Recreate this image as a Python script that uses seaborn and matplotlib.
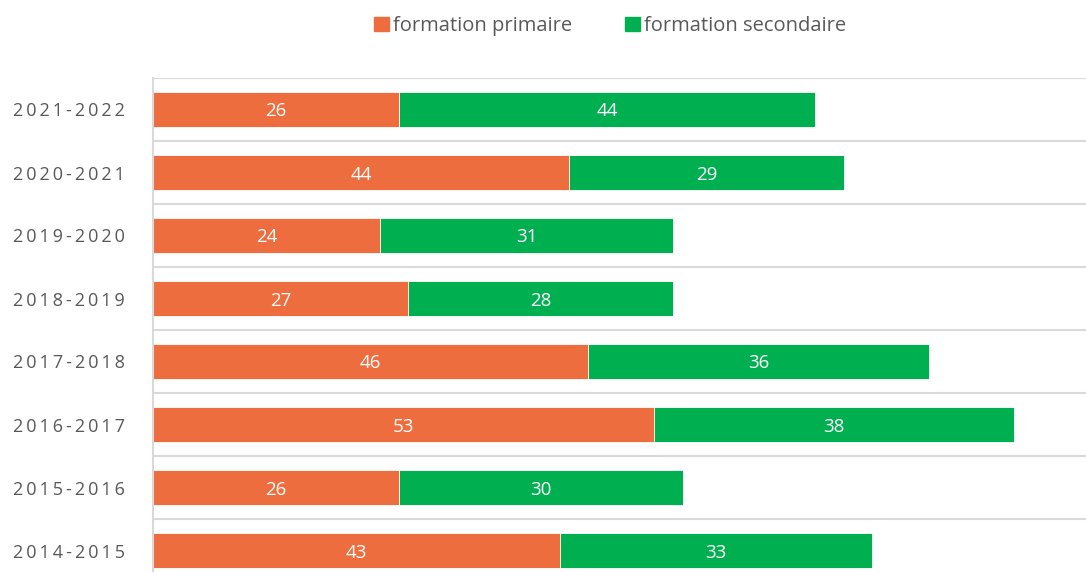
import matplotlib
matplotlib.use("Agg")
import matplotlib.pyplot as plt
import seaborn as sns
import pandas as pd
from matplotlib.patches import Patch

years = ["2021-2022", "2020-2021", "2019-2020", "2018-2019",
         "2017-2018", "2016-2017", "2015-2016", "2014-2015"]
primaire = [26, 44, 24, 27, 46, 53, 26, 43]
secondaire = [44, 29, 31, 28, 36, 38, 30, 33]
series_names = ["formation primaire", "formation secondaire"]

c_prim = "#ED6D3E"
c_sec = "#00B050"

df = pd.DataFrame({"year": years, "prim": primaire, "sec": secondaire})
df["total"] = df["prim"] + df["sec"]

sns.set_theme(style="white")
plt.rcParams["font.family"] = ["Open Sans", "DejaVu Sans"]

fig = plt.figure(figsize=(10.86, 5.72), dpi=100)
ax = fig.add_axes([153 / 1086, 0, 1 - 153 / 1086, 1 - 78 / 572])

sns.barplot(data=df, x="total", y="year", order=years, color=c_sec,
            width=0.57, edgecolor="white", linewidth=0.6, saturation=1, ax=ax)
sns.barplot(data=df, x="prim", y="year", order=years, color=c_prim,
            width=0.57, edgecolor="white", linewidth=0.6, saturation=1, ax=ax)

for i, (p, s) in enumerate(zip(primaire, secondaire)):
    ax.text(p / 2, i, str(p), ha="center", va="center_baseline", color="white", fontsize=13.5)
    ax.text(p + s / 2, i, str(s), ha="center", va="center_baseline", color="white", fontsize=13.5)

n = len(years)
for b in range(-1, n):
    ax.axhline(b + 0.5, color="#D9D9D9", lw=1.5, zorder=0)

ax.set_xlim(0, 933 / 9.46)
ax.set_ylim(n - 0.5 - 10 / 63, -0.5)
ax.set_xlabel("")
ax.set_ylabel("")
ax.set_xticks([])
spaced = ["\u2009".join(list(y)) for y in years]
ax.set_yticks(range(n))
ax.set_yticklabels(spaced, color="#595959", fontsize=13)
ax.tick_params(axis="y", length=0, pad=20)
for side in ["top", "right", "bottom"]:
    ax.spines[side].set_visible(False)
ax.spines["left"].set_color("#D9D9D9")
ax.spines["left"].set_linewidth(1.5)

handles = [Patch(color=c_prim), Patch(color=c_sec)]
fig.legend(handles, series_names, loc="center", bbox_to_anchor=(610 / 1086, 1 - 26 / 572),
           ncol=2, frameon=False, fontsize=14.5, handlelength=0.75, handleheight=0.75,
           handletextpad=0.2, columnspacing=2.6, labelcolor="#595959")

fig.savefig("out.png", dpi=100)
